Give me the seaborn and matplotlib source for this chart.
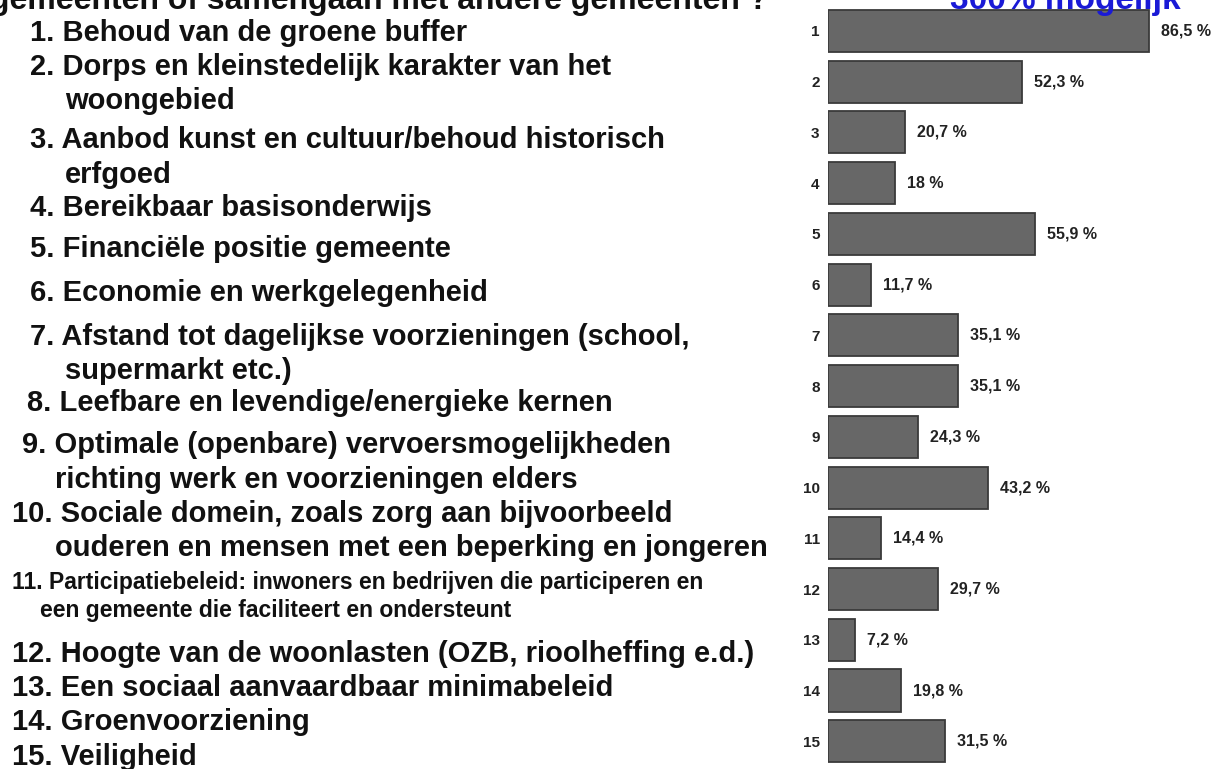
import matplotlib
matplotlib.use("Agg")
import matplotlib.pyplot as plt
import pandas as pd
import seaborn as sns

# Data
categories = [str(i) for i in range(1, 16)]
values = [86.5, 52.3, 20.7, 18.0, 55.9, 11.7, 35.1, 35.1, 24.3, 43.2, 14.4, 29.7, 7.2, 19.8, 31.5]
value_labels = ["86,5 %", "52,3 %", "20,7 %", "18 %", "55,9 %", "11,7 %", "35,1 %", "35,1 %",
                "24,3 %", "43,2 %", "14,4 %", "29,7 %", "7,2 %", "19,8 %", "31,5 %"]

descriptions = [
    ["1. Behoud van de groene buffer"],
    ["2. Dorps en kleinstedelijk karakter van het", "woongebied"],
    ["3. Aanbod kunst en cultuur/behoud historisch", "erfgoed"],
    ["4. Bereikbaar basisonderwijs"],
    ["5. Financiële positie gemeente"],
    ["6. Economie en werkgelegenheid"],
    ["7. Afstand tot dagelijkse voorzieningen (school,", "supermarkt etc.)"],
    ["8. Leefbare en levendige/energieke kernen"],
    ["9. Optimale (openbare) vervoersmogelijkheden", "richting werk en voorzieningen elders"],
    ["10. Sociale domein, zoals zorg aan bijvoorbeeld", "ouderen en mensen met een beperking en jongeren"],
    ["11. Participatiebeleid: inwoners en bedrijven die participeren en",
     "een gemeente die faciliteert en ondersteunt"],
    ["12. Hoogte van de woonlasten (OZB, rioolheffing e.d.)"],
    ["13. Een sociaal aanvaardbaar minimabeleid"],
    ["14. Groenvoorziening"],
    ["15. Veiligheid"],
]

title_text = "gemeenten of samengaan met andere gemeenten ?"
note_text = "300% mogelijk"

# Layout of the text block on the left (pixel positions of the slide)
W, H = 1222, 769
line_pos = [
    [(30, 33)],
    [(30, 67), (65, 101)],
    [(30, 140), (65, 175)],
    [(30, 208)],
    [(30, 249)],
    [(30, 293)],
    [(30, 337), (65, 371)],
    [(27, 403)],
    [(22, 445), (55, 480)],
    [(12, 514), (55, 548)],
    [(12, 583), (40, 610)],
    [(12, 654)],
    [(12, 688)],
    [(12, 722)],
    [(12, 757)],
]

df = pd.DataFrame({"item": categories, "value": values})

sns.set_style("white")
plt.rcParams["font.family"] = ["Liberation Sans", "DejaVu Sans"]

fig = plt.figure(figsize=(W / 100, H / 100), dpi=100)
ax = fig.add_axes([828 / W, 1 - 766.6 / H, 371 / W, (766.6 - 5.6) / H])

sns.barplot(data=df, x="value", y="item", order=categories, orient="h",
            color="#676767", edgecolor="#3a3a3a", linewidth=1.3,
            width=0.83, saturation=1, ax=ax)

ax.set_xlim(0, 100)
ax.set_ylim(14.5, -0.5)
ax.set_xlabel("")
ax.set_ylabel("")
ax.set_xticks([])
for s in ax.spines.values():
    s.set_visible(False)
ax.tick_params(axis="y", length=4, width=0.8, color="#999999", pad=2,
               labelsize=11, labelcolor="#222222")
for t in ax.get_yticklabels():
    t.set_fontweight("bold")

for i, (v, lab) in enumerate(zip(values, value_labels)):
    ax.text(v + 3.2, i, lab, va="center", ha="left", fontsize=11.5,
            fontweight="bold", color="#222222", clip_on=False)

# left text block
for i, (lines, pos) in enumerate(zip(descriptions, line_pos)):
    size = 16.5 if i == 10 else 21
    for txt, (x, y) in zip(lines, pos):
        fig.text(x / W, 1 - y / H, txt, ha="left", va="center",
                 fontsize=size, fontweight="bold", color="#111111")

# cut-off title and blue note at the top edge
fig.text(-10 / W, 1 - 1 / H, title_text, ha="left", va="center",
         fontsize=23, fontweight="bold", color="#111111")
fig.text(950 / W, 1 - 1 / H, note_text, ha="left", va="center",
         fontsize=24, fontweight="bold", color="#1a1ad6")

fig.savefig("out.png", dpi=100)
